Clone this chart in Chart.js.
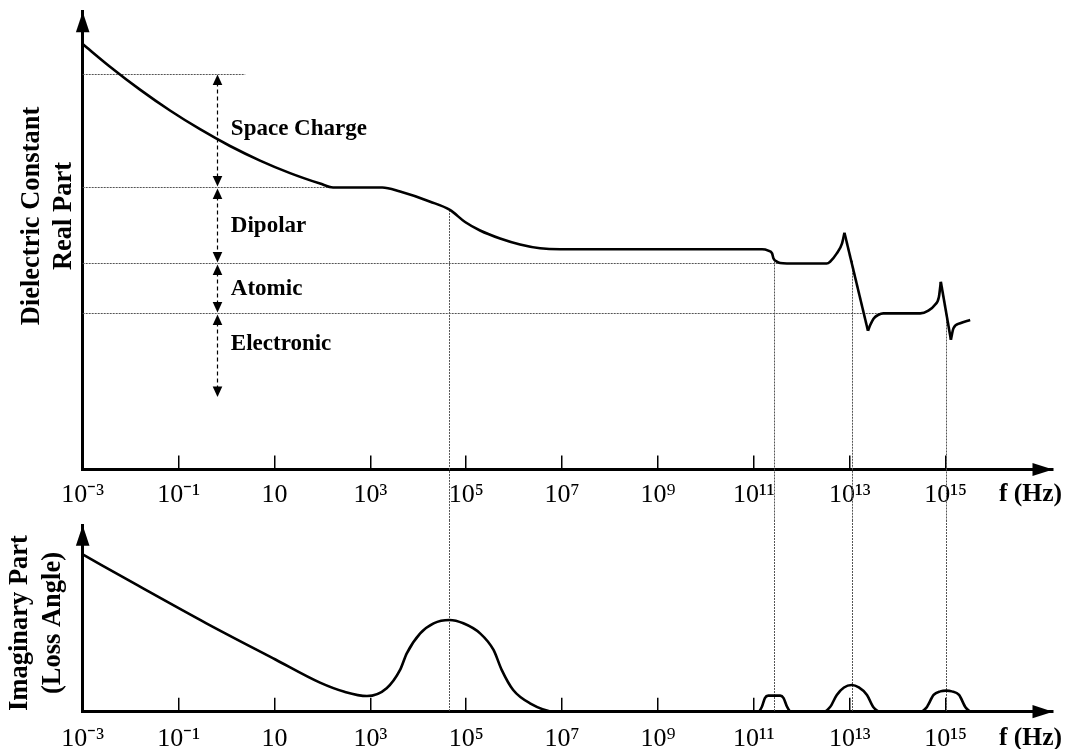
<!DOCTYPE html>
<html><head><meta charset="utf-8">
<script src="https://cdn.jsdelivr.net/npm/chart.js@4.4.1/dist/chart.umd.min.js"></script>
<style>
html,body{margin:0;padding:0;background:#fff;}
#wrap{position:relative;width:1070px;height:749px;overflow:hidden;background:#fff;}
canvas{position:absolute;left:0;}
#c1{top:0;}
#c2{top:520px;}
</style></head><body>
<div id="wrap"><canvas id="c1" width="1070" height="520"></canvas><canvas id="c2" width="1070" height="229"></canvas></div>
<script>
// ---------- data (x = log10 of frequency in Hz, y = arbitrary units 0..100) ----------
const tickValues = [-3, -1, 1, 3, 5, 7, 9, 11, 13, 15];
const tickLabels = ['10⁻³', '10⁻¹', '10', '10³', '10⁵', '10⁷', '10⁹', '10¹¹', '10¹³', '10¹⁵'];
const xMin = -3, xMax = 17.24;
const axisUnit = 'f (Hz)';

// real part (dielectric constant)
const realDecline = [[-3, 92.94], [-2.43, 87.99], [-1.805, 82.98], [-1.179, 78.42], [-0.553, 74.33], [0.073, 70.66],
  [0.699, 67.48], [1.325, 64.74], [1.951, 62.45], [2.222, 61.6],
  [3.25, 61.6], [3.62, 60.7], [4.25, 58.5], [4.66, 56.7], [4.976, 54.06], [5.289, 52.21], [5.706, 50.46],
  [6.123, 49.15], [6.541, 48.32], [6.958, 48.1], [11.17, 48.1], [11.3, 47.8], [11.38, 47.2], [11.41, 46.1],
  [11.48, 45.4], [11.55, 45.1], [11.69, 45.0], [12.52, 45.0], [12.59, 45.4], [12.73, 47.2], [12.84, 49.4], [12.89, 51.7]];
const realDrop1 = [[12.89, 51.7], [13.38, 30.3]];
const realRecover1 = [[13.38, 30.3], [13.43, 31.6], [13.5, 33.0], [13.6, 33.8], [13.7, 34.1], [14.47, 34.1],
  [14.64, 34.7], [14.77, 35.9], [14.86, 37.7], [14.9, 41.0]];
const realDrop2 = [[14.9, 41.0], [15.11, 28.35]];
const realRecover2 = [[15.11, 28.35], [15.164, 30.84], [15.304, 31.94], [15.512, 32.66]];

// imaginary part (loss)
const imagLowFreq = [[-3, 84.3], [-1.85, 67.7], [-0.42, 47.4], [1.02, 28.0], [1.95, 15.6], [2.46, 10.7], [2.93, 8.4],
  [3.34, 12.6], [3.62, 22.4], [3.76, 31.3], [4.04, 42.0], [4.32, 47.4], [4.65, 49.2], [4.94, 47.4], [5.29, 42.0],
  [5.57, 33.1], [5.74, 22.4], [5.98, 11.6], [6.33, 4.5], [6.85, 0], [7.2, 0]];
const imagPeak11 = [[11.02, 0], [11.09, 0], [11.17, 2.8], [11.23, 7.3], [11.30, 8.6], [11.55, 8.6], [11.62, 7.3],
  [11.69, 2.8], [11.77, 0], [11.84, 0]];
const imagPeak13 = [[12.38, 0], [12.45, 0], [12.59, 2.5], [12.73, 9.0], [12.88, 13.0], [13.04, 14.3], [13.19, 13.0],
  [13.36, 9.0], [13.49, 2.5], [13.64, 0], [13.7, 0]];
const imagPeak15 = [[14.4, 0], [14.47, 0], [14.6, 2.2], [14.75, 9.0], [14.89, 10.9], [15.01, 11.3], [15.13, 10.9],
  [15.28, 9.0], [15.42, 2.2], [15.55, 0], [15.6, 0]];

// polarization mechanism levels
const levelValues = [86.5, 61.6, 45.0, 34.1];
const levelEnds = [0.39, 2.23, 11.69, 14.47];
const arrowX = -0.19;
const arrowBottom = 15.6;
const mechanismLabels = ['Space Charge', 'Dipolar', 'Atomic', 'Electronic'];
const mechanismLabelY = [74.3, 53.2, 39.4, 27.5];
const mechanismLabelX = 0.09;
// resonance / relaxation frequencies (vertical guides)
const resonanceX = [4.65, 11.41, 13.04, 15.01];
const resonanceTopY = [56.7, 46.1, 45.6, 34.3];

const realTitle = ['Dielectric Constant', 'Real Part'];
const imagTitle = ['Imaginary Part', '(Loss Angle)'];

// ---------- helpers ----------
const SERIF = "'Liberation Serif', 'Times New Roman', serif";
Chart.defaults.font.family = SERIF;
Chart.defaults.color = '#000';

function ds(label, pts, smooth) {
  return {
    label, data: pts.map(p => ({x: p[0], y: p[1]})),
    borderColor: '#000', borderWidth: 2.6, pointRadius: 0, fill: false,
    tension: smooth ? 0.4 : 0, cubicInterpolationMode: smooth ? 'monotone' : 'default',
    clip: 4
  };
}

function xScale(height, pad) {
  return {
    type: 'linear', min: xMin, max: xMax,
    afterBuildTicks: s => { s.ticks = tickValues.map(v => ({value: v})); },
    ticks: {
      callback: (v, i) => tickLabels[i],
      padding: pad, color: '#000', maxRotation: 0, minRotation: 0, autoSkip: false,
      font: {size: 26, family: SERIF}
    },
    grid: {display: true, drawOnChartArea: false, drawTicks: true, tickLength: -14, color: '#000', lineWidth: 1.5},
    border: {display: true, color: '#000', width: 3},
    afterFit: s => { s.height = height; }
  };
}
function yScale() {
  return {
    type: 'linear', min: 0, max: 100,
    ticks: {display: false},
    grid: {display: false},
    border: {display: true, color: '#000', width: 3},
    afterFit: s => { s.width = 82.7; }
  };
}

function drawArrows(chart) {
  const {ctx, chartArea: a} = chart;
  ctx.save();
  ctx.fillStyle = '#000';
  ctx.beginPath();
  ctx.moveTo(a.left, a.top); ctx.lineTo(a.left - 6.8, a.top + 20.5); ctx.lineTo(a.left + 6.8, a.top + 20.5);
  ctx.closePath(); ctx.fill();
  ctx.beginPath();
  ctx.moveTo(a.right, a.bottom); ctx.lineTo(a.right - 20.5, a.bottom - 6.6); ctx.lineTo(a.right - 20.5, a.bottom + 6.6);
  ctx.closePath(); ctx.fill();
  ctx.restore();
}
function drawYTitle(ctx, lines, xs, y) {
  ctx.save();
  ctx.fillStyle = '#000';
  ctx.font = 'bold 26.5px ' + SERIF;
  ctx.textAlign = 'center';
  ctx.textBaseline = 'middle';
  lines.forEach((t, i) => {
    ctx.save(); ctx.translate(xs[i], y); ctx.rotate(-Math.PI / 2); ctx.fillText(t, 0, 0); ctx.restore();
  });
  ctx.restore();
}
function drawUnit(ctx, y) {
  ctx.save();
  ctx.fillStyle = '#000';
  ctx.font = 'bold 25.5px ' + SERIF;
  ctx.textAlign = 'left';
  ctx.textBaseline = 'middle';
  ctx.fillText(axisUnit, 999, y);
  ctx.restore();
}
function dotted(ctx) {
  ctx.strokeStyle = '#555';
  ctx.lineWidth = 1;
  ctx.setLineDash([2, 1]);
}
function arrowHead(ctx, x, y, dir) {
  ctx.beginPath();
  ctx.moveTo(x, y);
  ctx.lineTo(x - 4.8, y - dir * 10.5);
  ctx.lineTo(x + 4.8, y - dir * 10.5);
  ctx.closePath();
  ctx.fill();
}

const topPlugin = {
  id: 'topDecor',
  beforeDatasetsDraw(chart) {
    const {ctx, scales: {x, y}, chartArea: a} = chart;
    ctx.save();
    dotted(ctx);
    levelValues.forEach((v, i) => {
      const py = Math.round(y.getPixelForValue(v)) + 0.5;
      ctx.beginPath(); ctx.moveTo(a.left, py); ctx.lineTo(x.getPixelForValue(levelEnds[i]), py); ctx.stroke();
    });
    resonanceX.forEach((v, i) => {
      const px = Math.round(x.getPixelForValue(v)) + 0.5;
      ctx.beginPath(); ctx.moveTo(px, y.getPixelForValue(resonanceTopY[i])); ctx.lineTo(px, chart.height); ctx.stroke();
    });
    ctx.restore();
  },
  afterDatasetsDraw(chart) {
    const {ctx, scales: {x, y}} = chart;
    drawArrows(chart);
    // double-headed dashed arrows
    const ax = Math.round(x.getPixelForValue(arrowX)) + 0.5;
    const stops = levelValues.concat([arrowBottom]);
    ctx.save();
    ctx.strokeStyle = '#000'; ctx.fillStyle = '#000'; ctx.lineWidth = 1.2; ctx.setLineDash([4, 3]);
    for (let i = 0; i < stops.length - 1; i++) {
      const y1 = y.getPixelForValue(stops[i]), y2 = y.getPixelForValue(stops[i + 1]);
      ctx.beginPath(); ctx.moveTo(ax, y1 + 9); ctx.lineTo(ax, y2 - 9); ctx.stroke();
      arrowHead(ctx, ax, y1 + 1, -1);
      arrowHead(ctx, ax, y2 - 1, 1);
    }
    ctx.restore();
    // mechanism labels
    ctx.save();
    ctx.fillStyle = '#000';
    ctx.font = 'bold 23px ' + SERIF;
    ctx.textAlign = 'left'; ctx.textBaseline = 'middle';
    mechanismLabels.forEach((t, i) => ctx.fillText(t, x.getPixelForValue(mechanismLabelX), y.getPixelForValue(mechanismLabelY[i])));
    ctx.restore();
    drawYTitle(ctx, realTitle, [32, 64.5], 216);
    drawUnit(ctx, 494);
  }
};

const bottomPlugin = {
  id: 'bottomDecor',
  beforeDatasetsDraw(chart) {
    const {ctx, scales: {x}, chartArea: a} = chart;
    ctx.save();
    dotted(ctx);
    resonanceX.forEach(v => {
      const px = Math.round(x.getPixelForValue(v)) + 0.5;
      ctx.beginPath(); ctx.moveTo(px, 0); ctx.lineTo(px, a.bottom); ctx.stroke();
    });
    ctx.restore();
  },
  afterDatasetsDraw(chart) {
    drawArrows(chart);
    drawYTitle(chart.ctx, imagTitle, [20.5, 53.5], 623 - 520);
    drawUnit(chart.ctx, 738 - 520);
  }
};

const common = {
  responsive: false, animation: false, events: [],
  plugins: {legend: {display: false}, tooltip: {enabled: false}, title: {display: false}}
};

new Chart(document.getElementById('c1'), {
  type: 'line',
  data: {datasets: [
    ds('Real part', realDecline, true),
    ds('Real part drop 1', realDrop1, false),
    ds('Real part recovery 1', realRecover1, true),
    ds('Real part drop 2', realDrop2, false),
    ds('Real part recovery 2', realRecover2, true)
  ]},
  options: Object.assign({}, common, {
    layout: {padding: {left: 0, right: 17, top: 11.7, bottom: 0}},
    scales: {x: xScale(50.5, 24), y: yScale()}
  }),
  plugins: [topPlugin]
});

new Chart(document.getElementById('c2'), {
  type: 'line',
  data: {datasets: [
    ds('Imaginary part', imagLowFreq, true),
    ds('Peak 10^11', imagPeak11, true),
    ds('Peak 10^13', imagPeak13, true),
    ds('Peak 10^15', imagPeak15, true)
  ]},
  options: Object.assign({}, common, {
    layout: {padding: {left: 0, right: 17, top: 5.2, bottom: 0}},
    scales: {x: xScale(37.3, 26), y: yScale()}
  }),
  plugins: [bottomPlugin]
});
</script>
</body></html>
